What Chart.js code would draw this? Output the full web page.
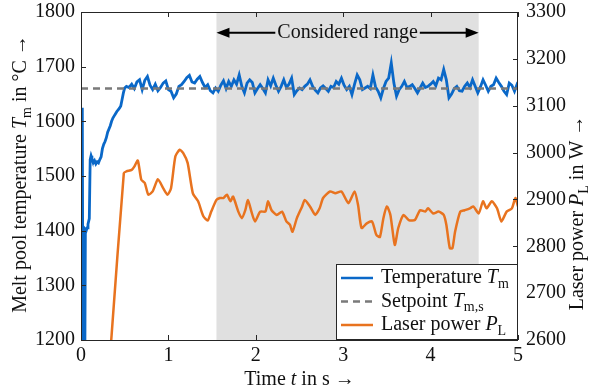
<!DOCTYPE html>
<html>
<head>
<meta charset="utf-8">
<script src="https://cdn.jsdelivr.net/npm/chart.js@4.4.1/dist/chart.umd.min.js"></script>
<style>
html, body { margin: 0; padding: 0; background: #fff; }
#melt-pool-chart { display: block; }
</style>
</head>
<body>
<canvas id="melt-pool-chart" width="597" height="392"></canvas>
<script>
// measured melt pool temperature (left axis, °C)
var tempTime = [0.015, 0.025, 0.04, 0.05, 0.06, 0.07, 0.08, 0.095, 0.105, 0.115,
    0.125, 0.14, 0.155, 0.17, 0.185, 0.2, 0.215, 0.23, 0.245, 0.26,
    0.275, 0.29, 0.305, 0.32, 0.335, 0.35, 0.365, 0.38, 0.395, 0.41,
    0.425, 0.44, 0.455, 0.47, 0.485, 0.5,
    0.52, 0.55, 0.58, 0.61, 0.64, 0.67, 0.70, 0.73, 0.76, 0.79,
    0.82, 0.85, 0.88, 0.91, 0.94, 0.97, 1.00, 1.03, 1.06, 1.09,
    1.12, 1.15, 1.18, 1.21, 1.24, 1.27, 1.30, 1.33, 1.36, 1.39,
    1.42, 1.45, 1.48, 1.51, 1.54, 1.57, 1.60, 1.63, 1.66, 1.69,
    1.72, 1.75, 1.78, 1.81, 1.84, 1.87, 1.90, 1.93, 1.96, 1.99,
    2.02, 2.05, 2.08, 2.11, 2.14, 2.17, 2.20, 2.23, 2.26, 2.29,
    2.32, 2.35, 2.38, 2.41, 2.44, 2.47, 2.50, 2.53, 2.56, 2.59,
    2.62, 2.65, 2.68, 2.71, 2.74, 2.77, 2.80, 2.83, 2.86, 2.89,
    2.92, 2.95, 2.98, 3.01, 3.04, 3.07, 3.10, 3.13, 3.16, 3.19,
    3.22, 3.25, 3.28, 3.31, 3.34, 3.37, 3.40, 3.43, 3.46, 3.49,
    3.52, 3.55, 3.58, 3.61, 3.64, 3.67, 3.70, 3.73, 3.76, 3.79,
    3.82, 3.85, 3.88, 3.91, 3.94, 3.97, 4.00, 4.03, 4.06, 4.09,
    4.12, 4.15, 4.18, 4.21, 4.24, 4.27, 4.30, 4.33, 4.36, 4.39,
    4.42, 4.45, 4.48, 4.51, 4.54, 4.57, 4.60, 4.63, 4.66, 4.69,
    4.72, 4.75, 4.78, 4.81, 4.84, 4.87, 4.90, 4.93, 4.96, 4.99, 5.02];
var tempValues = [1625, 1000, 1000, 1402, 1400, 1405, 1412, 1422, 1530, 1537,
    1532, 1524, 1528, 1522, 1526, 1524, 1530, 1535, 1550, 1558,
    1563, 1570, 1580, 1586, 1592, 1600, 1606, 1610, 1614, 1618,
    1621, 1624, 1628, 1640, 1652, 1661,
    1664, 1662, 1668, 1660, 1672, 1676, 1658, 1675, 1682, 1666,
    1658, 1668, 1656, 1662, 1670, 1674, 1658, 1655, 1643, 1650,
    1664, 1667, 1673, 1680, 1684, 1672, 1670, 1677, 1682, 1671,
    1662, 1667, 1656, 1652, 1661, 1655, 1666, 1674, 1660, 1673,
    1664, 1676, 1668, 1685, 1664, 1652, 1670, 1676, 1671, 1652,
    1660, 1667, 1660, 1652, 1676, 1665, 1679, 1666, 1655, 1664,
    1676, 1662, 1668, 1679, 1649, 1656, 1661, 1658, 1664, 1668,
    1676, 1664, 1657, 1652, 1661, 1665, 1660, 1655, 1664, 1662,
    1673, 1668, 1679, 1666, 1658, 1664, 1649, 1668, 1685, 1676,
    1658, 1661, 1664, 1660, 1685, 1663, 1655, 1643, 1660, 1673,
    1679, 1707, 1670, 1646, 1658, 1664, 1673, 1662, 1664, 1667,
    1660, 1652, 1661, 1670, 1662, 1664, 1668, 1673, 1665, 1679,
    1676, 1695, 1676, 1643, 1650, 1660, 1664, 1656, 1655, 1664,
    1670, 1662, 1676, 1664, 1652, 1663, 1676, 1666, 1655, 1664,
    1667, 1679, 1671, 1664, 1655, 1649, 1670, 1666, 1655, 1668, 1663];

// setpoint (left axis, °C)
var setpointTime = [0, 5];
var setpointValues = [1660, 1660];

// laser power (right axis, W)
var powerTime = [0.25, 0.35, 0.49, 0.52, 0.58, 0.61, 0.65, 0.69, 0.73, 0.77,
    0.82, 0.88, 0.94, 0.99, 1.03, 1.08, 1.13, 1.17, 1.22, 1.28,
    1.34, 1.40, 1.45, 1.49, 1.55, 1.59, 1.63, 1.67, 1.71, 1.74,
    1.80, 1.84, 1.88, 1.91, 1.95, 1.99, 2.05, 2.11, 2.14, 2.18,
    2.24, 2.30, 2.35, 2.39, 2.42, 2.47, 2.53, 2.56, 2.62, 2.68,
    2.73, 2.77, 2.85, 2.91, 2.98, 3.06, 3.13, 3.17, 3.21, 3.27,
    3.33, 3.38, 3.42, 3.46, 3.50, 3.54, 3.59, 3.63, 3.69, 3.75,
    3.82, 3.88, 3.94, 3.97, 4.03, 4.09, 4.15, 4.18, 4.22, 4.25,
    4.28, 4.34, 4.39, 4.45, 4.49, 4.55, 4.60, 4.64, 4.70, 4.76,
    4.81, 4.87, 4.93, 4.97, 5.00];
var powerValues = [2370, 2610, 2956, 2960, 2963, 2970, 2983, 2942, 2935, 2910,
    2917, 2943, 2924, 2910, 2924, 2992, 3006, 2999, 2978, 2913,
    2896, 2864, 2855, 2874, 2899, 2903, 2903, 2910, 2896, 2906,
    2874, 2860, 2877, 2899, 2874, 2853, 2874, 2874, 2896, 2877,
    2867, 2874, 2853, 2846, 2831, 2860, 2885, 2899, 2885, 2867,
    2881, 2903, 2917, 2913, 2917, 2892, 2917, 2888, 2839, 2849,
    2853, 2824, 2820, 2860, 2885, 2867, 2803, 2839, 2867, 2856,
    2856, 2877, 2874, 2881, 2870, 2874, 2867, 2846, 2796, 2796,
    2831, 2874, 2877, 2881, 2885, 2870, 2896, 2881, 2896, 2881,
    2853, 2874, 2881, 2903, 2885];

var timeTicks = [0, 1, 2, 3, 4, 5];
var tempTicks = [1200, 1300, 1400, 1500, 1600, 1700, 1800];
var powerTicks = [2600, 2700, 2800, 2900, 3000, 3100, 3200, 3300];

var consideredRange = [1.55, 4.55];
var consideredLabel = "Considered range";
var consideredArrowLevel = 1762;

var legendEntries = [
    [{text: "Temperature "}, {text: "T", italic: true}, {text: "m", sub: true}],
    [{text: "Setpoint "}, {text: "T", italic: true}, {text: "m,s", sub: true}],
    [{text: "Laser power "}, {text: "P", italic: true}, {text: "L", sub: true}]
];
var xTitle = [{text: "Time "}, {text: "t", italic: true}, {text: " in s \u2192"}];
var yTitle = [{text: "Melt pool temperature "}, {text: "T", italic: true}, {text: "m", sub: true}, {text: " in \u00b0C \u2192"}];
var y1Title = [{text: "Laser power "}, {text: "P", italic: true}, {text: "L", sub: true}, {text: " in W \u2192"}];

var FONT = "'Liberation Serif', 'Times New Roman', serif";
var INK = "#111";
var BLUE = "#0a68c8";
var ORANGE = "#e8731f";
var GREY = "#7a7a7a";

Chart.defaults.font.family = FONT;

function toPoints(xs, ys){
    var out = [];
    for (var i = 0; i < xs.length; i++){
        out.push({x: xs[i], y: ys[i]});
    }
    return out;
}

function partFont(p, size){
    if (p.sub){
        return Math.round(size * 0.68) + "px " + FONT;
    }
    return (p.italic ? "italic " : "") + size + "px " + FONT;
}

// draws text made of normal / italic / subscript parts, x is the centre or left edge
function drawRich(ctx, parts, x, y, size, align){
    var widths = parts.map(function(p){
        ctx.font = partFont(p, size);
        return ctx.measureText(p.text).width;
    });
    var total = widths.reduce(function(a, b){ return a + b; }, 0);
    var cx = align === "left" ? x : x - total / 2;
    ctx.textBaseline = "middle";
    ctx.textAlign = "left";
    parts.forEach(function(p, i){
        ctx.font = partFont(p, size);
        ctx.fillText(p.text, cx, p.sub ? y + size * 0.3 : y);
        cx += widths[i];
    });
}

var matlabAxes = {
    id: "matlabAxes",
    beforeDatasetsDraw: function(chart){
        var ctx = chart.ctx, area = chart.chartArea, xs = chart.scales.x;
        var x0 = xs.getPixelForValue(consideredRange[0]);
        var x1 = xs.getPixelForValue(consideredRange[1]);
        ctx.save();
        ctx.fillStyle = "#e0e0e0";
        ctx.fillRect(x0, area.top, x1 - x0, area.bottom - area.top);
        ctx.restore();
    },
    afterDatasetsDraw: function(chart){
        var ctx = chart.ctx, area = chart.chartArea;
        var xs = chart.scales.x, ys = chart.scales.y, ys1 = chart.scales.y1;
        var tick = 5;
        ctx.save();

        // box and inward ticks
        ctx.strokeStyle = "#262626";
        ctx.lineWidth = 1;
        ctx.strokeRect(area.left + 0.5, area.top + 0.5, area.right - area.left - 1, area.bottom - area.top);
        ctx.beginPath();
        timeTicks.forEach(function(t){
            var px = Math.round(xs.getPixelForValue(t)) + 0.5;
            ctx.moveTo(px, area.bottom); ctx.lineTo(px, area.bottom - tick);
            ctx.moveTo(px, area.top); ctx.lineTo(px, area.top + tick);
        });
        tempTicks.forEach(function(v){
            var py = Math.round(ys.getPixelForValue(v)) + 0.5;
            ctx.moveTo(area.left, py); ctx.lineTo(area.left + tick, py);
        });
        powerTicks.forEach(function(v){
            var py = Math.round(ys1.getPixelForValue(v)) + 0.5;
            ctx.moveTo(area.right, py); ctx.lineTo(area.right - tick, py);
        });
        ctx.stroke();

        // considered range arrow
        var ax0 = xs.getPixelForValue(consideredRange[0]);
        var ax1 = xs.getPixelForValue(consideredRange[1]);
        var ay = ys.getPixelForValue(consideredArrowLevel);
        var mid = (ax0 + ax1) / 2;
        ctx.font = "20px " + FONT;
        var tw = ctx.measureText(consideredLabel).width;
        ctx.strokeStyle = "#000";
        ctx.fillStyle = "#000";
        ctx.lineWidth = 2;
        ctx.beginPath();
        ctx.moveTo(ax0 + 4, ay); ctx.lineTo(mid - tw / 2 - 2, ay);
        ctx.moveTo(mid + tw / 2 + 2, ay); ctx.lineTo(ax1 - 4, ay);
        ctx.stroke();
        ctx.beginPath();
        ctx.moveTo(ax0, ay); ctx.lineTo(ax0 + 13, ay - 5); ctx.lineTo(ax0 + 13, ay + 5); ctx.closePath();
        ctx.moveTo(ax1, ay); ctx.lineTo(ax1 - 13, ay - 5); ctx.lineTo(ax1 - 13, ay + 5); ctx.closePath();
        ctx.fill();
        ctx.fillStyle = INK;
        ctx.textAlign = "center";
        ctx.textBaseline = "middle";
        ctx.fillText(consideredLabel, mid, ay);

        // legend
        var lw = 182, lh = 76;
        var lx = area.right - lw, ly = area.bottom - lh;
        ctx.fillStyle = "#fff";
        ctx.fillRect(lx, ly, lw, lh);
        ctx.strokeStyle = "#262626";
        ctx.lineWidth = 1;
        ctx.strokeRect(lx + 0.5, ly + 0.5, lw - 1, lh - 1);
        var order = [1, 0, 2];
        legendEntries.forEach(function(parts, i){
            var ds = chart.data.datasets[order[i]];
            var rowY = ly + 14 + i * 23.5;
            ctx.strokeStyle = ds.borderColor;
            ctx.lineWidth = 2.5;
            ctx.setLineDash(ds.borderDash || []);
            ctx.beginPath();
            ctx.moveTo(lx + 5, rowY); ctx.lineTo(lx + 37, rowY);
            ctx.stroke();
            ctx.setLineDash([]);
            ctx.fillStyle = INK;
            drawRich(ctx, parts, lx + 45, rowY, 20, "left");
        });

        // axis titles
        ctx.fillStyle = INK;
        drawRich(ctx, xTitle, (area.left + area.right) / 2, 380, 20, "center");
        ctx.save();
        ctx.translate(21, 174);
        ctx.rotate(-Math.PI / 2);
        drawRich(ctx, yTitle, 0, 0, 20, "center");
        ctx.restore();
        ctx.save();
        ctx.translate(578, 213);
        ctx.rotate(-Math.PI / 2);
        drawRich(ctx, y1Title, 0, 0, 20, "center");
        ctx.restore();

        ctx.restore();
    }
};

var tickFont = {family: FONT, size: 20};
function plainLabel(v){ return String(v); }
function fixTicks(list){
    return function(s){ s.ticks = list.map(function(v){ return {value: v}; }); };
}

new Chart(document.getElementById("melt-pool-chart"), {
    type: "line",
    data: {
        datasets: [{
            label: "Setpoint",
            data: toPoints(setpointTime, setpointValues),
            yAxisID: "y",
            borderColor: GREY,
            borderWidth: 2.5,
            borderDash: [7, 5],
            pointRadius: 0
        }, {
            label: "Temperature",
            data: toPoints(tempTime, tempValues),
            yAxisID: "y",
            borderColor: BLUE,
            borderWidth: 2.8,
            pointRadius: 0,
            tension: 0
        }, {
            label: "Laser power",
            data: toPoints(powerTime, powerValues),
            yAxisID: "y1",
            borderColor: ORANGE,
            borderWidth: 2.5,
            pointRadius: 0,
            tension: 0.2
        }]
    },
    options: {
        responsive: false,
        animation: false,
        events: [],
        layout: {padding: {top: 12}},
        plugins: {legend: {display: false}, tooltip: {enabled: false}},
        scales: {
            x: {
                type: "linear",
                min: 0, max: 5,
                afterBuildTicks: fixTicks(timeTicks),
                afterFit: function(s){ s.height = 52; s.paddingLeft = 0; s.paddingRight = 0; },
                grid: {display: false, drawTicks: false},
                border: {display: false},
                ticks: {font: tickFont, color: INK, padding: 4, maxRotation: 0, callback: plainLabel}
            },
            y: {
                position: "left",
                min: 1200, max: 1800,
                afterBuildTicks: fixTicks(tempTicks),
                afterFit: function(s){ s.width = 81; s.paddingTop = 0; s.paddingBottom = 0; },
                grid: {display: false, drawTicks: false},
                border: {display: false},
                ticks: {font: tickFont, color: INK, padding: 6, callback: plainLabel}
            },
            y1: {
                position: "right",
                min: 2600, max: 3300,
                afterBuildTicks: fixTicks(powerTicks),
                afterFit: function(s){ s.width = 79; s.paddingTop = 0; s.paddingBottom = 0; },
                grid: {display: false, drawTicks: false},
                border: {display: false},
                ticks: {font: tickFont, color: INK, padding: 8, callback: plainLabel}
            }
        }
    },
    plugins: [matlabAxes]
});
</script>
</body>
</html>
